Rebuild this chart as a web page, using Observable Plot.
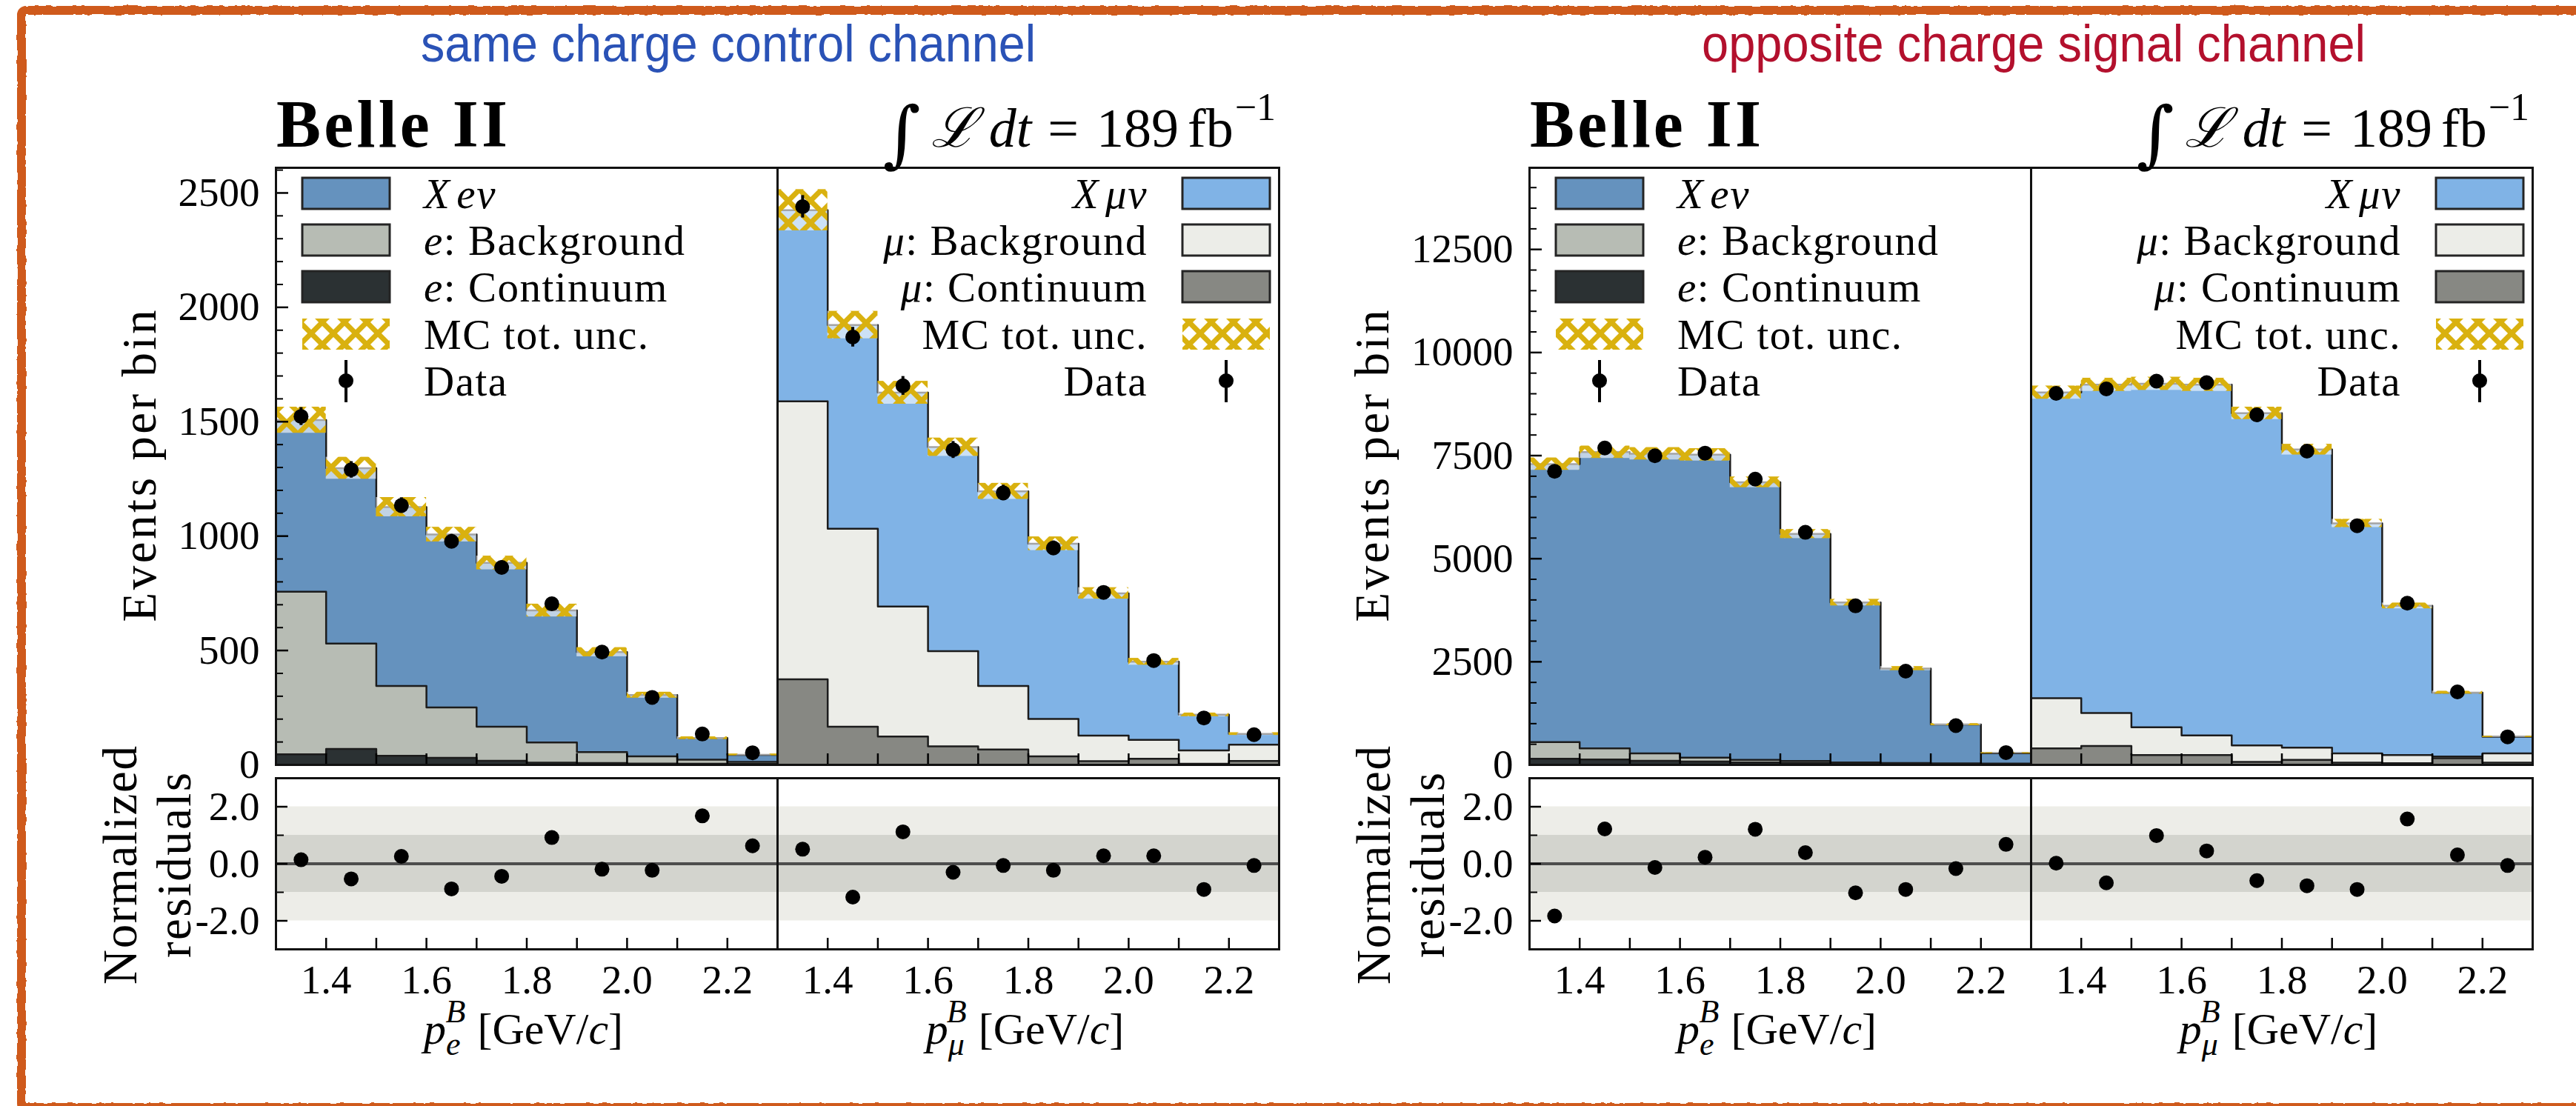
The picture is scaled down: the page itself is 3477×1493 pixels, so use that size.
<!DOCTYPE html>
<html>
<head>
<meta charset="utf-8">
<script src="https://cdn.jsdelivr.net/npm/d3@7"></script>
<script src="https://cdn.jsdelivr.net/npm/@observablehq/plot@0.6"></script>
<style>
  html, body { margin: 0; padding: 0; background: #fff; }
  #page { position: relative; width: 3477px; height: 1493px; overflow: hidden; background: #fff; }
  .panel { position: absolute; }
  .panel svg { display: block; overflow: visible; }
  #overlay { position: absolute; left: 0; top: 0; pointer-events: none; }
</style>
</head>
<body>
<div id="page"></div>
<script>
// Lepton momentum in the B rest frame, bin edges in GeV/c
const pEdges = [1.3, 1.4, 1.5, 1.6, 1.7, 1.8, 1.9, 2.0, 2.1, 2.2, 2.3];

// Same charge control channel, electron sample (events per bin)
const sameE_continuum  = [46, 70, 40, 31, 18, 10, 8, 6, 5, 4];
const sameE_background = [711, 460, 305, 220, 149, 88, 48, 31, 18, 9];
const sameE_signal     = [750, 767, 782, 756, 716, 577, 437, 268, 94, 31];
const sameE_mcUnc      = [57, 48, 42, 32, 30, 28, 20, 13, 6, 4];
const sameE_data       = [1523, 1290, 1134, 977, 863, 704, 493, 295, 135, 53];
const sameE_dataErr    = [39, 36, 34, 31, 29, 27, 22, 17, 12, 7];
const sameE_residual   = [0.14, -0.53, 0.26, -0.88, -0.44, 0.92, -0.19, -0.23, 1.68, 0.63];

// Same charge control channel, muon sample
const sameMu_continuum  = [374, 167, 124, 81, 67, 37, 16, 27, 5, 17];
const sameMu_background = [1215, 865, 568, 416, 278, 164, 112, 82, 58, 71];
const sameMu_signal     = [836, 891, 935, 892, 851, 766, 622, 342, 156, 47];
const sameMu_mcUnc      = [90, 60, 50, 40, 35, 30, 25, 15, 8, 6];
const sameMu_data       = [2440, 1870, 1657, 1377, 1189, 948, 754, 456, 205, 132];
const sameMu_dataErr    = [49, 43, 41, 37, 34, 31, 27, 21, 14, 11];
const sameMu_residual   = [0.51, -1.17, 1.12, -0.30, -0.06, -0.23, 0.28, 0.28, -0.90, -0.06];

// Opposite charge signal channel, electron sample
const oppE_continuum  = [150, 130, 100, 80, 60, 50, 30, 25, 20, 15];
const oppE_background = [402, 270, 180, 96, 60, 46, 30, 20, 15, 15];
const oppE_signal     = [6744, 7184, 7267, 7345, 6735, 5504, 3877, 2292, 942, 255];
const oppE_mcUnc      = [150, 150, 150, 150, 130, 110, 80, 50, 25, 12];
const oppE_data       = [7118, 7685, 7496, 7560, 6930, 5640, 3857, 2272, 953, 298];
const oppE_dataErr    = [84, 88, 87, 87, 83, 75, 62, 48, 31, 17];
const oppE_residual   = [-1.83, 1.22, -0.13, 0.23, 1.21, 0.39, -1.02, -0.90, -0.17, 0.68];

// Opposite charge signal channel, muon sample
const oppMu_continuum  = [400, 457, 240, 240, 72, 120, 56, 40, 160, 56];
const oppMu_background = [1216, 799, 672, 472, 401, 296, 224, 200, 40, 224];
const oppMu_signal     = [7414, 7963, 8332, 8507, 8054, 7231, 5577, 3617, 1553, 401];
const oppMu_mcUnc      = [160, 160, 160, 160, 150, 130, 100, 70, 35, 15];
const oppMu_data       = [9010, 9118, 9306, 9270, 8489, 7609, 5800, 3921, 1770, 680];
const oppMu_dataErr    = [95, 95, 96, 96, 92, 87, 76, 63, 42, 26];
const oppMu_residual   = [0.02, -0.67, 0.99, 0.45, -0.59, -0.77, -0.90, 1.57, 0.31, -0.06];

// Axis ticks and ranges
const sameYTicks = [0, 500, 1000, 1500, 2000, 2500];
const oppYTicks = [0, 2500, 5000, 7500, 10000, 12500];
const sameYMax = 2610;
const oppYMax = 14480;
const pTickLabels = [1.4, 1.6, 1.8, 2.0, 2.2];
const residualTicks = [-2, 0, 2];
const residualMinorTicks = [-1, 1];
const residualBands = [2, 1];
const residualRange = [-3, 3];

// ---------------------------------------------------------------------------
const SERIF = "'Liberation Serif', 'DejaVu Serif', serif";
const eColors = {sig: "#6592be", bkg: "#b7bcb4", cont: "#2b3133"};
const muColors = {sig: "#80b3e6", bkg: "#ecede8", cont: "#878883"};
const PANEL_W = 677, MAIN_TOP = 226, MAIN_H = 806, RES_TOP = 1050, RES_H = 231;

function channel(c, b, s, u, d, e, r) {
  return {continuum: c, background: b, signal: s, mcUnc: u, data: d, dataErr: e, residual: r};
}
const sameE = channel(sameE_continuum, sameE_background, sameE_signal, sameE_mcUnc, sameE_data, sameE_dataErr, sameE_residual);
const sameMu = channel(sameMu_continuum, sameMu_background, sameMu_signal, sameMu_mcUnc, sameMu_data, sameMu_dataErr, sameMu_residual);
const oppE = channel(oppE_continuum, oppE_background, oppE_signal, oppE_mcUnc, oppE_data, oppE_dataErr, oppE_residual);
const oppMu = channel(oppMu_continuum, oppMu_background, oppMu_signal, oppMu_mcUnc, oppMu_data, oppMu_dataErr, oppMu_residual);

function binsFor(ch) {
  return ch.signal.map((_, i) => {
    const c = ch.continuum[i], b = ch.background[i], s = ch.signal[i];
    return {
      x1: pEdges[i], x2: pEdges[i + 1], xc: (pEdges[i] + pEdges[i + 1]) / 2,
      l1: c, l2: c + b, l3: c + b + s,
      unc: ch.mcUnc[i], data: ch.data[i], err: ch.dataErr[i], pull: ch.residual[i]
    };
  });
}
// two points per bin so that the stacked levels are drawn as steps
function stepPoints(bins) {
  return bins.flatMap(d => [{...d, x: d.x1}, {...d, x: d.x2}]);
}
const innerEdges = pEdges.slice(1, -1);
const xDomain = [pEdges[0], pEdges[pEdges.length - 1]];
const plotStyle = {fontFamily: SERIF, fontSize: "55px", overflow: "visible", background: "transparent", color: "#000"};

function mainPlot(ch, colors, yMax, yMajor, minorStep, withYAxis) {
  const bins = binsFor(ch), pts = stepPoints(bins);
  const line = {x: "x", stroke: "#1c1c1c", strokeWidth: 2.5};
  const marks = [
    Plot.areaY(pts, {x: "x", y1: 0, y2: "l1", fill: colors.cont}),
    Plot.areaY(pts, {x: "x", y1: "l1", y2: "l2", fill: colors.bkg}),
    Plot.areaY(pts, {x: "x", y1: "l2", y2: "l3", fill: colors.sig}),
    Plot.line(pts, {...line, y: "l1"}),
    Plot.line(pts, {...line, y: "l2"}),
    Plot.line(pts, {...line, y: "l3"}),
    Plot.rect(bins, {x1: "x1", x2: "x2", y1: d => d.l3 - d.unc, y2: d => d.l3 + d.unc, fill: "url(#mcHatch)"}),
    Plot.ruleX(bins, {x: "xc", y1: d => d.data - d.err, y2: d => d.data + d.err, stroke: "#000", strokeWidth: 4}),
    Plot.dot(bins, {x: "xc", y: "data", r: 10, fill: "#000"}),
    Plot.axisX(innerEdges, {anchor: "bottom", tickSize: 15, dy: -15, tickFormat: () => "", strokeWidth: 2.5, label: null})
  ];
  if (withYAxis) {
    const minor = d3.range(0, yMax, minorStep).filter(v => !yMajor.includes(v));
    marks.push(Plot.axisY(yMajor, {anchor: "left", tickSize: 17, dx: 17, tickPadding: 22,
      tickFormat: d => String(d), fontSize: 55, strokeWidth: 2.5, label: null}));
    marks.push(Plot.axisY(minor, {anchor: "left", tickSize: 10, dx: 10, tickFormat: () => "", strokeWidth: 2, label: null}));
  }
  marks.push(Plot.frame({stroke: "#111", strokeWidth: 3}));
  return Plot.plot({
    width: PANEL_W, height: MAIN_H, margin: 0, style: plotStyle,
    x: {domain: xDomain, axis: null, label: null},
    y: {domain: [0, yMax], axis: null, label: null},
    marks
  });
}

function residualPlot(ch, withYAxis) {
  const bins = binsFor(ch);
  const marks = [
    Plot.rect([residualBands[0]], {x1: xDomain[0], x2: xDomain[1], y1: d => -d, y2: d => d, fill: "#ededE8"}),
    Plot.rect([residualBands[1]], {x1: xDomain[0], x2: xDomain[1], y1: d => -d, y2: d => d, fill: "#d3d4ce"}),
    Plot.ruleY([0], {stroke: "#4d4d4d", strokeWidth: 4}),
    Plot.dot(bins, {x: "xc", y: "pull", r: 10, fill: "#000"}),
    Plot.axisX(innerEdges, {anchor: "bottom", tickSize: 15, dy: -15, tickPadding: 20, fontSize: 55, strokeWidth: 2.5, label: null,
      tickFormat: d => pTickLabels.some(t => Math.abs(t - d) < 1e-9) ? d.toFixed(1) : ""})
  ];
  if (withYAxis) {
    marks.push(Plot.axisY(residualTicks, {anchor: "left", tickSize: 16, dx: 16, tickPadding: 22,
      tickFormat: d => d.toFixed(1), fontSize: 55, strokeWidth: 2.5, label: null}));
    marks.push(Plot.axisY(residualMinorTicks, {anchor: "left", tickSize: 11, dx: 11, tickFormat: () => "", strokeWidth: 2, label: null}));
  }
  marks.push(Plot.frame({stroke: "#111", strokeWidth: 3}));
  return Plot.plot({
    width: PANEL_W, height: RES_H, margin: 0, style: plotStyle,
    x: {domain: xDomain, axis: null, label: null},
    y: {domain: residualRange, axis: null, label: null},
    marks
  });
}

const page = document.getElementById("page");
function place(svg, left, top, w, h) {
  const div = document.createElement("div");
  div.className = "panel";
  div.style.left = left + "px";
  div.style.top = top + "px";
  div.style.width = w + "px";
  div.style.height = h + "px";
  div.appendChild(svg);
  page.appendChild(div);
}

const groups = [
  {left: 372, e: sameE, mu: sameMu, yMax: sameYMax, yTicks: sameYTicks, minorStep: 100,
   title: "same charge control channel", titleColor: "#2a52b6", titleX: 983, titleLen: 830, ylabelX: 210},
  {left: 2064, e: oppE, mu: oppMu, yMax: oppYMax, yTicks: oppYTicks, minorStep: 500,
   title: "opposite charge signal channel", titleColor: "#b3102d", titleX: 2745, titleLen: 896, ylabelX: 1874}
];

for (const g of groups) {
  place(mainPlot(g.e, eColors, g.yMax, g.yTicks, g.minorStep, true), g.left, MAIN_TOP, PANEL_W, MAIN_H);
  place(mainPlot(g.mu, muColors, g.yMax, g.yTicks, g.minorStep, false), g.left + PANEL_W, MAIN_TOP, PANEL_W, MAIN_H);
  place(residualPlot(g.e, true), g.left, RES_TOP, PANEL_W, RES_H);
  place(residualPlot(g.mu, false), g.left + PANEL_W, RES_TOP, PANEL_W, RES_H);
}

// ---- annotations: titles, labels, legends and the hand-drawn frame
const rowY = [261, 324, 387, 451, 514];
const it = s => `<tspan font-style="italic">${s}</tspan>`;

function legend(items, swatchX, textX, anchor) {
  let out = "";
  items.forEach((item, i) => {
    const cy = rowY[i];
    if (item.kind === "fill") {
      out += `<rect x="${swatchX}" y="${cy - 21}" width="118" height="42" fill="${item.fill}" stroke="#242424" stroke-width="3"/>`;
    } else if (item.kind === "hatch") {
      out += `<rect x="${swatchX}" y="${cy - 21}" width="118" height="42" fill="url(#mcHatch)"/>`;
    } else {
      const cx = swatchX + 59;
      out += `<line x1="${cx}" x2="${cx}" y1="${cy - 28}" y2="${cy + 29}" stroke="#000" stroke-width="4"/>`;
      out += `<circle cx="${cx}" cy="${cy}" r="10" fill="#000"/>`;
    }
    out += `<text x="${textX}" y="${cy + 20}" font-size="57" letter-spacing="1.5" text-anchor="${anchor}">${item.label}</text>`;
  });
  return out;
}
const eLegend = [
  {kind: "fill", fill: eColors.sig, label: `${it("X")}<tspan font-style="italic" dx="8">eν</tspan>`},
  {kind: "fill", fill: eColors.bkg, label: `${it("e")}: Background`},
  {kind: "fill", fill: eColors.cont, label: `${it("e")}: Continuum`},
  {kind: "hatch", label: `MC tot.<tspan dx="14">unc.</tspan>`},
  {kind: "data", label: "Data"}
];
const muLegend = [
  {kind: "fill", fill: muColors.sig, label: `${it("X")}<tspan font-style="italic" dx="8">μν</tspan>`},
  {kind: "fill", fill: muColors.bkg, label: `${it("μ")}: Background`},
  {kind: "fill", fill: muColors.cont, label: `${it("μ")}: Continuum`},
  {kind: "hatch", label: `MC tot.<tspan dx="14">unc.</tspan>`},
  {kind: "data", label: "Data"}
];

function xLabel(cx, sub, subW) {
  return `<text x="${cx}" y="1409" text-anchor="middle" font-size="60">` +
    `<tspan font-style="italic">p</tspan>` +
    `<tspan font-style="italic" font-size="44" dy="15">${sub}</tspan>` +
    `<tspan font-style="italic" font-size="44" dx="${-subW}" dy="-44">B</tspan>` +
    `<tspan dx="16" dy="29">[GeV/</tspan><tspan font-style="italic">c</tspan><tspan>]</tspan></text>`;
}

let ann = "";
for (const g of groups) {
  const L = g.left;
  ann += `<text x="${g.titleX}" y="83" text-anchor="middle" font-family="'Liberation Sans', Arial, sans-serif" font-size="71" fill="${g.titleColor}" textLength="${g.titleLen}" lengthAdjust="spacingAndGlyphs">${g.title}</text>`;
  ann += `<text x="${L + 1}" y="198" font-size="90" font-weight="bold" textLength="312" lengthAdjust="spacing">Belle II</text>`;
  ann += `<text x="${L + 1350}" y="198" text-anchor="end" font-size="74">` +
    `<tspan font-size="98" font-family="'DejaVu Serif', serif" dy="16">∫</tspan>` +
    `<tspan font-family="'DejaVu Serif', serif" font-style="italic" dx="14" dy="-16">ℒ</tspan>` +
    `<tspan font-style="italic" dx="16">dt</tspan><tspan dx="22">=</tspan><tspan dx="24">189</tspan>` +
    `<tspan dx="12">fb</tspan><tspan font-size="52" dx="2" dy="-36">−1</tspan></text>`;
  ann += `<text transform="translate(${g.ylabelX},629) rotate(-90)" text-anchor="middle" font-size="65" textLength="421" lengthAdjust="spacing">Events per bin</text>`;
  ann += `<text transform="translate(${L - 188},1168) rotate(-90)" text-anchor="middle" font-size="65" textLength="322" lengthAdjust="spacing">Normalized</text>`;
  ann += `<text transform="translate(${L - 115},1168) rotate(-90)" text-anchor="middle" font-size="65" textLength="250" lengthAdjust="spacing">residuals</text>`;
  ann += xLabel(L + PANEL_W / 2 - 4, "e", 20);
  ann += xLabel(L + PANEL_W * 1.5 - 4, "μ", 24);
  ann += legend(eLegend, L + 36, L + 200, "start");
  ann += legend(muLegend, L + 1224, L + 1177, "end");
}

const overlay = `
<svg id="overlay" width="3477" height="1493" viewBox="0 0 3477 1493" font-family="${SERIF.replace(/'/g, "&apos;")}" fill="#000">
  <defs>
    <pattern id="mcHatch" patternUnits="userSpaceOnUse" width="30" height="30">
      <rect width="30" height="30" fill="#ffffff" fill-opacity="0.6"/>
      <path d="M-15,15 L15,45 M0,0 L30,30 M15,-15 L45,15 M-15,15 L15,-15 M0,30 L30,0 M15,45 L45,15"
            stroke="#d9b10f" stroke-width="7" fill="none"/>
    </pattern>
    <filter id="crayon" x="-2%" y="-3%" width="104%" height="106%">
      <feTurbulence type="fractalNoise" baseFrequency="0.09" numOctaves="2" seed="4" result="noise"/>
      <feDisplacementMap in="SourceGraphic" in2="noise" scale="4" xChannelSelector="R" yChannelSelector="G"/>
    </filter>
  </defs>
  <rect x="29" y="14" width="3520" height="1481" rx="6" fill="none" stroke="#cf5a1d" stroke-width="12" filter="url(#crayon)"/>
  ${ann}
</svg>`;
page.insertAdjacentHTML("beforeend", overlay);
</script>
</body>
</html>
